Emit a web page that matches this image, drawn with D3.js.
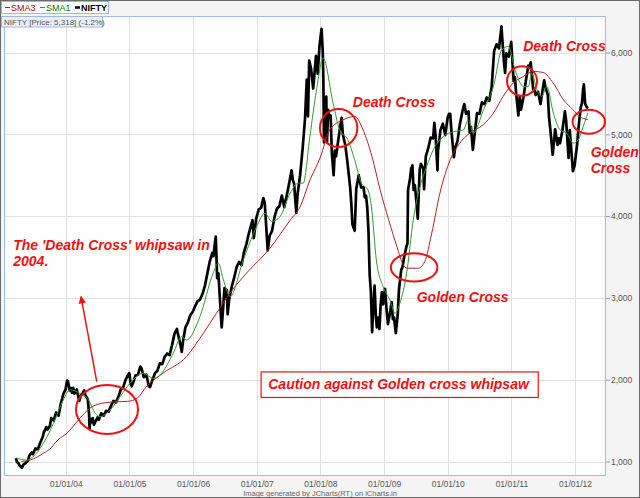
<!DOCTYPE html>
<html>
<head>
<meta charset="utf-8">
<script src="https://cdn.jsdelivr.net/npm/d3@7"></script>
<style>
  html, body { margin: 0; padding: 0; background: #fff; }
  svg { display: block; font-family: Arial, "Liberation Sans", sans-serif; }
</style>
</head>
<body>
<svg id="chart" width="640" height="498"></svg>
<script>
// NIFTY closes (roughly weekly, extremes kept)
const niftyClose = [
  ["2003-03-21",1040],["2003-03-28",990],["2003-04-04",985],["2003-04-11",950],["2003-04-25",925],
  ["2003-05-02",960],["2003-05-16",980],["2003-05-30",1010],["2003-06-06",1070],["2003-06-20",1110],
  ["2003-06-27",1090],["2003-07-11",1160],["2003-07-25",1150],["2003-08-08",1230],["2003-08-22",1300],
  ["2003-08-29",1360],["2003-09-12",1420],["2003-09-19",1390],["2003-10-03",1440],["2003-10-10",1530],
  ["2003-10-24",1500],["2003-11-07",1600],["2003-11-21",1560],["2003-12-05",1720],["2003-12-12",1770],
  ["2003-12-19",1830],["2003-12-31",1880],
  ["2004-01-09",1990],["2004-01-14",1980],["2004-01-23",1870],["2004-01-30",1900],["2004-02-06",1840],
  ["2004-02-13",1900],["2004-02-20",1830],["2004-03-05",1880],["2004-03-12",1800],["2004-03-19",1740],
  ["2004-03-26",1800],["2004-04-09",1840],["2004-04-16",1870],["2004-04-23",1810],["2004-05-07",1760],
  ["2004-05-14",1580],["2004-05-17",1400],["2004-05-21",1520],["2004-05-28",1480],["2004-06-04",1530],
  ["2004-06-11",1450],["2004-06-18",1480],["2004-07-02",1540],["2004-07-09",1510],["2004-07-23",1590],
  ["2004-08-06",1560],["2004-08-20",1620],["2004-09-03",1610],["2004-09-17",1680],["2004-10-01",1740],
  ["2004-10-15",1720],["2004-10-29",1790],["2004-11-12",1880],["2004-11-26",1910],["2004-12-10",2000],
  ["2004-12-24",2060],["2004-12-31",2080],
  ["2005-01-07",1960],["2005-01-14",1920],["2005-01-28",2000],["2005-02-04",2050],["2005-02-18",2060],
  ["2005-03-04",2160],["2005-03-11",2140],["2005-03-24",2030],["2005-04-08",2060],["2005-04-22",1920],
  ["2005-04-29",1910],["2005-05-13",2000],["2005-05-27",2080],["2005-06-10",2110],["2005-06-24",2200],
  ["2005-07-08",2190],["2005-07-22",2280],["2005-08-05",2320],["2005-08-19",2300],["2005-09-02",2420],
  ["2005-09-16",2560],["2005-09-30",2620],["2005-10-07",2550],["2005-10-21",2420],["2005-10-28",2340],
  ["2005-11-04",2470],["2005-11-18",2640],["2005-12-02",2700],["2005-12-16",2790],["2005-12-30",2830],
  ["2006-01-13",2900],["2006-01-27",2960],["2006-02-10",2980],["2006-02-24",3050],["2006-03-10",3150],
  ["2006-03-24",3300],["2006-04-07",3450],["2006-04-21",3550],["2006-04-28",3510],["2006-05-05",3650],
  ["2006-05-11",3750],["2006-05-19",3240],["2006-05-26",3300],["2006-06-02",3050],["2006-06-09",2800],
  ["2006-06-14",2640],["2006-06-23",2900],["2006-06-30",3120],["2006-07-07",3010],["2006-07-14",3100],
  ["2006-07-18",2800],["2006-07-28",3000],["2006-08-11",3140],["2006-08-25",3250],["2006-09-08",3380],
  ["2006-09-22",3440],["2006-10-06",3400],["2006-10-20",3560],["2006-11-03",3660],["2006-11-17",3790],
  ["2006-12-01",3900],["2006-12-08",3950],["2006-12-15",3730],["2006-12-29",3970],
  ["2007-01-12",4080],["2007-01-26",4100],["2007-02-08",4220],["2007-02-16",4160],["2007-02-28",3750],
  ["2007-03-05",3580],["2007-03-16",3760],["2007-03-30",3820],["2007-04-13",3990],["2007-04-27",4090],
  ["2007-05-11",4120],["2007-05-25",4250],["2007-06-08",4110],["2007-06-22",4250],["2007-07-06",4400],
  ["2007-07-20",4560],["2007-07-27",4440],["2007-08-03",4400],["2007-08-16",4040],["2007-08-24",4280],
  ["2007-09-07",4500],["2007-09-21",4820],["2007-10-05",5190],["2007-10-15",5670],["2007-10-22",5220],
  ["2007-10-29",5900],["2007-11-09",5800],["2007-11-21",5560],["2007-12-07",5960],["2007-12-17",5740],
  ["2007-12-27",6080],
  ["2008-01-08",6290],["2008-01-15",6000],["2008-01-18",5700],["2008-01-22",4900],["2008-01-25",5380],
  ["2008-02-01",5320],["2008-02-04",5460],["2008-02-08",4900],["2008-02-15",5300],["2008-02-22",5200],
  ["2008-02-29",5230],["2008-03-07",4770],["2008-03-17",4500],["2008-03-24",4800],["2008-03-31",4730],
  ["2008-04-11",4900],["2008-04-25",5110],["2008-05-02",5200],["2008-05-09",5000],["2008-05-23",4870],
  ["2008-06-06",4630],["2008-06-20",4350],["2008-06-27",4140],["2008-07-03",3900],["2008-07-16",3820],
  ["2008-07-25",4330],["2008-08-08",4500],["2008-08-22",4350],["2008-09-05",4350],["2008-09-12",4230],
  ["2008-09-19",4250],["2008-09-26",4110],["2008-10-03",3820],["2008-10-10",3280],["2008-10-17",3070],
  ["2008-10-24",2580],["2008-10-31",2890],["2008-11-07",3150],["2008-11-14",2800],["2008-11-20",2640],
  ["2008-11-28",2760],["2008-12-05",2620],["2008-12-12",2920],["2008-12-19",3070],["2008-12-26",2920],
  ["2009-01-06",3110],["2009-01-16",2830],["2009-01-23",2680],["2009-02-06",2850],["2009-02-13",2950],
  ["2009-02-20",2740],["2009-02-27",2760],["2009-03-06",2620],["2009-03-09",2570],["2009-03-20",2800],
  ["2009-03-27",3100],["2009-04-09",3340],["2009-04-17",3380],["2009-04-24",3480],["2009-05-08",3620],
  ["2009-05-15",3670],["2009-05-18",4320],["2009-05-29",4450],["2009-06-05",4580],["2009-06-12",4620],
  ["2009-06-19",4320],["2009-06-26",4380],["2009-07-06",4160],["2009-07-13",3970],["2009-07-24",4570],
  ["2009-07-31",4640],["2009-08-14",4580],["2009-08-18",4330],["2009-08-28",4730],["2009-09-11",4830],
  ["2009-09-25",4960],["2009-10-09",4950],["2009-10-16",5140],["2009-10-23",4990],["2009-11-03",4560],
  ["2009-11-06",4800],["2009-11-20",5050],["2009-12-04",5130],["2009-12-18",4990],["2009-12-31",5200],
  ["2010-01-08",5250],["2010-01-15",5250],["2010-01-22",5040],["2010-01-29",4880],["2010-02-05",4720],
  ["2010-02-12",4830],["2010-02-26",4920],["2010-03-12",5130],["2010-03-26",5280],["2010-04-06",5370],
  ["2010-04-16",5250],["2010-04-30",5280],["2010-05-07",5020],["2010-05-14",5090],["2010-05-25",4810],
  ["2010-06-04",5000],["2010-06-18",5260],["2010-07-02",5250],["2010-07-16",5390],["2010-07-30",5370],
  ["2010-08-13",5450],["2010-08-27",5410],["2010-09-10",5580],["2010-09-24",6020],["2010-10-08",6100],
  ["2010-10-22",6050],["2010-11-05",6320],["2010-11-19",5890],["2010-11-26",5750],["2010-12-03",5990],
  ["2010-12-17",5950],["2010-12-31",6130],
  ["2011-01-14",5650],["2011-01-21",5700],["2011-01-28",5510],["2011-02-10",5230],["2011-02-18",5460],
  ["2011-02-25",5300],["2011-03-11",5450],["2011-03-25",5650],["2011-04-08",5840],["2011-04-15",5820],
  ["2011-04-22",5880],["2011-05-06",5550],["2011-05-13",5540],["2011-05-20",5480],["2011-06-03",5520],
  ["2011-06-17",5370],["2011-06-24",5470],["2011-07-08",5660],["2011-07-15",5580],["2011-07-29",5480],
  ["2011-08-05",5210],["2011-08-12",5070],["2011-08-26",4750],["2011-09-09",5060],["2011-09-23",4870],
  ["2011-09-30",4950],["2011-10-07",4890],["2011-10-21",5050],["2011-11-04",5280],["2011-11-11",5170],
  ["2011-11-25",4710],["2011-12-02",5050],["2011-12-09",4860],["2011-12-20",4550],["2011-12-30",4620],
  ["2012-01-06",4750],["2012-01-13",4870],["2012-01-20",5050],["2012-01-27",5200],["2012-02-03",5330],
  ["2012-02-10",5380],["2012-02-17",5560],["2012-02-21",5610],["2012-02-28",5380],["2012-03-02",5360],
  ["2012-03-09",5330],["2012-03-16",5318]
];

// SMA1 (green)
const sma1 = [
  ["2003-03-25",1040],["2003-05-22",1018],["2003-07-17",1100],["2003-08-26",1223],["2003-10-23",1467],
  ["2003-12-18",1752],["2004-01-25",1875],["2004-03-22",1834],["2004-05-11",1752],["2004-06-18",1590],
  ["2004-07-16",1548],["2004-09-12",1630],["2004-11-08",1793],["2005-01-04",1956],["2005-03-21",2079],
  ["2005-05-18",2017],["2005-06-25",2058],["2005-09-09",2323],["2005-10-27",2527],["2005-11-24",2486],
  ["2006-02-09",2771],["2006-04-26",3302],["2006-05-26",3424],["2006-06-24",3220],["2006-08-01",3016],
  ["2006-10-16",3465],["2007-01-01",3873],["2007-02-17",4036],["2007-03-28",3934],["2007-05-15",3995],
  ["2007-07-12",4281],["2007-08-27",4403],["2007-09-25",4403],["2007-11-02",4973],["2007-12-10",5544],
  ["2008-01-17",5932],["2008-03-14",5381],["2008-04-21",5055],["2008-06-07",4933],["2008-07-16",4688],
  ["2008-08-23",4403],["2008-09-30",4321],["2008-10-20",4117],["2008-11-17",3465],["2008-12-26",3138],
  ["2009-02-03",2975],["2009-03-04",2812],["2009-04-01",2934],["2009-05-10",3302],["2009-06-17",3954],
  ["2009-07-26",4362],["2009-09-02",4606],["2009-10-10",4811],["2009-12-06",4973],["2010-02-02",5030],
  ["2010-04-01",5055],["2010-04-29",5177],["2010-05-28",5015],["2010-07-25",5300],["2010-09-20",5585],
  ["2010-11-07",6034],["2010-12-15",6075],["2011-01-22",5789],["2011-03-11",5585],["2011-04-09",5585],
  ["2011-04-28",5748],["2011-05-27",5544],["2011-06-24",5462],["2011-07-23",5585],["2011-08-30",5259],
  ["2011-10-07",5055],["2011-11-14",5015],["2011-12-22",4892],["2012-01-20",4933],["2012-02-17",5096],
  ["2012-03-08",5218],["2012-03-14",5260]
];

// SMA3 (red)
const sma3 = [
  ["2003-04-22",1000],["2003-06-28",1030],["2003-08-25",1100],["2003-10-01",1150],["2003-11-17",1263],
  ["2004-01-08",1345],["2004-03-22",1528],["2004-05-19",1651],["2004-07-27",1712],["2004-10-15",1730],
  ["2004-12-20",1735],["2005-02-14",1773],["2005-04-08",1915],["2005-07-12",2079],["2005-11-24",2282],
  ["2006-02-28",2567],["2006-05-15",2812],["2006-07-31",3057],["2006-11-03",3302],["2007-03-18",3608],
  ["2007-07-13",3954],["2007-09-06",4110],["2007-11-03",4443],["2008-01-01",4720],["2008-02-24",5055],
  ["2008-05-11",5177],["2008-07-16",5218],["2008-09-02",5055],["2008-10-23",4729],["2008-12-09",4321],
  ["2009-01-27",3954],["2009-03-15",3628],["2009-04-20",3404],["2009-05-12",3363],["2009-07-16",3363],
  ["2009-08-22",3444],["2009-10-01",3791],["2009-11-17",4281],["2010-01-15",4688],["2010-03-11",4892],
  ["2010-05-08",5015],["2010-07-23",5116],["2010-09-20",5259],["2010-11-14",5462],["2011-01-11",5626],
  ["2011-03-11",5707],["2011-05-08",5768],["2011-07-02",5756],["2011-08-29",5626],["2011-10-27",5422],
  ["2011-12-20",5300],["2012-01-26",5218],["2012-03-14",5180]
];

const yTicks = [1000, 2000, 3000, 4000, 5000, 6000];
const xTicks = ["2004-01-01","2005-01-01","2006-01-01","2007-01-01","2008-01-01",
                "2009-01-01","2010-01-01","2011-01-01","2012-01-01"];
const seriesNames = ["SMA3", "SMA1", "NIFTY"];
const priceLabel = "NIFTY [Price: 5,318] (-1.2%)";
const footer = "Image generated by JCharts(RT) on iCharts.in";

// hand-drawn annotations, anchored in date / value
const crossCircles = [
  ["2004-08-25",1636],["2008-04-15",5076],["2009-06-22",3373],["2011-03-03",5651],["2012-03-20",5153]
];
const noteTexts = [
  ["2008-07-05",5330,"Death Cross"],
  ["2011-03-10",6013,"Death Cross"],
  ["2009-07-07",2955,"Golden Cross"],
  ["2012-03-31",4728,"Golden"],
  ["2012-03-31",4525,"Cross"],
  ["2003-03-06",3587,"The 'Death Cross' whipsaw in"],
  ["2003-03-06",3391,"2004."]
];
const arrowFrom = ["2004-06-27",1976];
const arrowTo = ["2004-03-29",3016];
const cautionBox = [["2007-01-26",2095],["2011-06-04",1783]];
const cautionText = ["2007-03-08",1887,"Caution against Golden cross whipsaw"];

// layout
const W = 640, H = 498;
const PLOT = { left: 4, right: 606, top: 16, bottom: 476 };
const circleRadii = [[31,24.5],[18.7,19],[23.3,14.2],[15,14.7],[16.2,12]];
const RED = "#ee1111";
const COLORS = { SMA3: "#b22222", SMA1: "#2f9a2f", NIFTY: "#000" };

const parse = d3.timeParse("%Y-%m-%d");
const x = d3.scaleTime()
  .domain([parse("2004-01-01"), parse("2012-01-01")])
  .range([65.7, 575]);
const y = d3.scaleLinear().domain([1000, 6000]).range([461.5, 52.5]);

const svg = d3.select("#chart");

svg.append("rect")
  .attr("x", 0.5).attr("y", 0.5).attr("width", W - 1).attr("height", H - 1)
  .attr("fill", "#f4f4f4").attr("stroke", "#6b6b6b");

svg.append("rect")
  .attr("x", PLOT.left).attr("y", PLOT.top)
  .attr("width", PLOT.right - PLOT.left).attr("height", PLOT.bottom - PLOT.top)
  .attr("fill", "#fff");

// grid
const grid = svg.append("g").attr("stroke", "#e0e0e0").attr("stroke-width", 1);
grid.selectAll(".h").data(yTicks).join("line")
  .attr("x1", PLOT.left).attr("x2", PLOT.right)
  .attr("y1", (d) => Math.round(y(d)) + 0.5).attr("y2", (d) => Math.round(y(d)) + 0.5);
grid.selectAll(".v").data(xTicks).join("line")
  .attr("x1", (d) => Math.round(x(parse(d))) + 0.5).attr("x2", (d) => Math.round(x(parse(d))) + 0.5)
  .attr("y1", PLOT.top).attr("y2", PLOT.bottom);

svg.append("clipPath").attr("id", "plotclip")
  .append("rect")
  .attr("x", PLOT.left).attr("y", PLOT.top)
  .attr("width", PLOT.right - PLOT.left).attr("height", PLOT.bottom - PLOT.top);

const line = d3.line()
  .x((d) => x(parse(d[0])))
  .y((d) => y(d[1]));

const lines = svg.append("g").attr("clip-path", "url(#plotclip)").attr("fill", "none");
lines.append("path").datum(niftyClose)
  .attr("stroke", COLORS.NIFTY).attr("stroke-width", 2.7)
  .attr("stroke-linejoin", "round").attr("d", line);
lines.append("path").datum(sma3)
  .attr("stroke", COLORS.SMA3).attr("stroke-width", 1)
  .attr("d", line.curve(d3.curveMonotoneX));
lines.append("path").datum(sma1)
  .attr("stroke", COLORS.SMA1).attr("stroke-width", 1)
  .attr("d", line.curve(d3.curveMonotoneX));

// frame
svg.append("rect")
  .attr("x", PLOT.left + 0.5).attr("y", PLOT.top + 0.5)
  .attr("width", PLOT.right - PLOT.left - 1).attr("height", PLOT.bottom - PLOT.top - 1)
  .attr("fill", "none").attr("stroke", "#9fbcef");

// axes
const yAxis = svg.append("g")
  .attr("transform", `translate(${PLOT.right},0)`)
  .call(d3.axisRight(y).tickValues(yTicks).tickSize(4).tickPadding(1).tickFormat(d3.format(",")));
yAxis.select(".domain").remove();
yAxis.selectAll("line").attr("stroke", "#999");
yAxis.selectAll("text").attr("fill", "#555").attr("font-size", "8.5px")
  .attr("font-family", "Arial, 'Liberation Sans', sans-serif");

const xAxis = svg.append("g")
  .attr("transform", `translate(0,${PLOT.bottom})`)
  .call(d3.axisBottom(x).tickValues(xTicks.map(parse)).tickSize(0).tickPadding(4.5)
    .tickFormat(d3.timeFormat("%d/%m/%y")));
xAxis.select(".domain").remove();
xAxis.selectAll("text").attr("fill", "#555").attr("font-size", "8.5px")
  .attr("font-family", "Arial, 'Liberation Sans', sans-serif");

svg.append("text")
  .attr("x", W / 2).attr("y", 496).attr("text-anchor", "middle")
  .attr("font-size", "7.5px").attr("fill", "#666").text(footer);

// legend
const legend = svg.append("g");
legend.append("rect")
  .attr("x", 1.5).attr("y", 1.5).attr("width", 107).attr("height", 12)
  .attr("fill", "#fff").attr("stroke", "#a3b7de");
let lx = 5;
seriesNames.forEach((name) => {
  legend.append("line")
    .attr("x1", lx).attr("x2", lx + 5).attr("y1", 7.5).attr("y2", 7.5)
    .attr("stroke", COLORS[name]).attr("stroke-width", name === "NIFTY" ? 2.5 : 1);
  const t = legend.append("text")
    .attr("x", lx + 6).attr("y", 10.8)
    .attr("font-size", "9px")
    .attr("font-weight", name === "NIFTY" ? "bold" : "normal")
    .attr("fill", name === "SMA3" ? "#c00000" : name === "SMA1" ? "#008000" : "#000")
    .text(name);
  lx += 6 + t.node().getComputedTextLength() + 4.5;
});

svg.append("rect")
  .attr("x", 1.5).attr("y", 16.5).attr("width", 101).attr("height", 10.5)
  .attr("fill", "#e9eef7").attr("stroke", "#a3b7de");
svg.append("text")
  .attr("x", 4).attr("y", 24.8).attr("font-size", "8px").attr("fill", "#555")
  .text(priceLabel);

// annotations
const notes = svg.append("g");
notes.selectAll("ellipse").data(crossCircles).join("ellipse")
  .attr("cx", (d) => x(parse(d[0]))).attr("cy", (d) => y(d[1]))
  .attr("rx", (d, i) => circleRadii[i][0]).attr("ry", (d, i) => circleRadii[i][1])
  .attr("fill", "none").attr("stroke", RED).attr("stroke-width", 2);

svg.append("defs").append("marker")
  .attr("id", "arrowhead").attr("viewBox", "0 0 10 10")
  .attr("refX", 9).attr("refY", 5)
  .attr("markerWidth", 5).attr("markerHeight", 5)
  .attr("orient", "auto")
  .append("path").attr("d", "M0,0 L10,5 L0,10 z").attr("fill", RED);

notes.append("line")
  .attr("x1", x(parse(arrowFrom[0]))).attr("y1", y(arrowFrom[1]))
  .attr("x2", x(parse(arrowTo[0]))).attr("y2", y(arrowTo[1]))
  .attr("stroke", RED).attr("stroke-width", 1.5)
  .attr("marker-end", "url(#arrowhead)");

const bx0 = x(parse(cautionBox[0][0])), by0 = y(cautionBox[0][1]);
const bx1 = x(parse(cautionBox[1][0])), by1 = y(cautionBox[1][1]);
notes.append("rect")
  .attr("x", bx0).attr("y", by0).attr("width", bx1 - bx0).attr("height", by1 - by0)
  .attr("fill", "#fff").attr("stroke", RED).attr("stroke-width", 1.2);

notes.selectAll("text").data(noteTexts.concat([cautionText])).join("text")
  .attr("x", (d) => x(parse(d[0]))).attr("y", (d) => y(d[1]))
  .attr("font-size", "14px").attr("font-weight", "bold").attr("font-style", "italic")
  .attr("fill", RED)
  .text((d) => d[2]);
</script>
</body>
</html>
